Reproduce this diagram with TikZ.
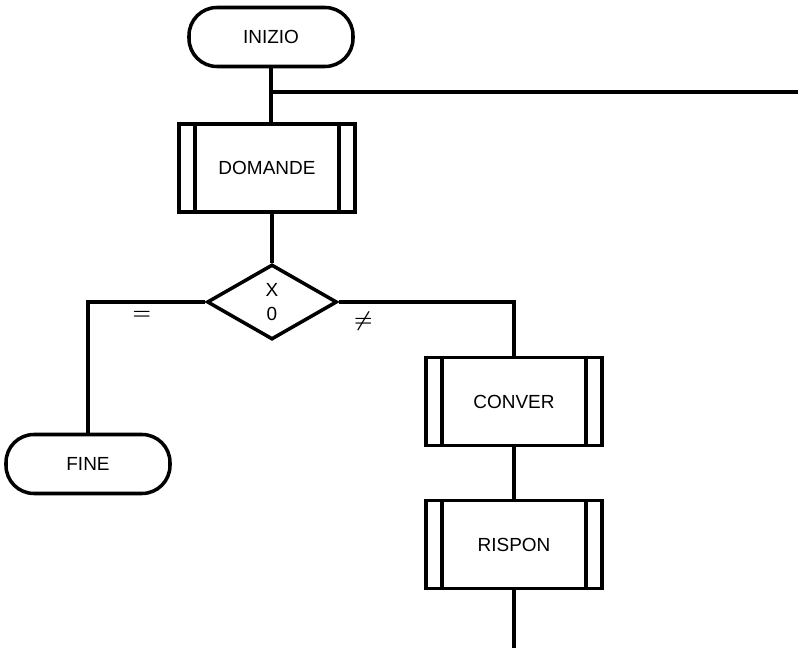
\documentclass[tikz,border=0pt]{standalone}
\usepackage{fontspec}
\setmainfont{Liberation Sans}
\usetikzlibrary{shapes.geometric}
\begin{document}
\begin{tikzpicture}[line width=2pt, every node/.style={align=center, font=\fontsize{10.8}{13.6}\selectfont},
  term/.style={draw, rounded corners=0.56cm, minimum width=3.28cm, minimum height=1.18cm},
  subproc/.style={draw, minimum width=3.52cm, minimum height=1.76cm,
    path picture={\draw ([xshift=0.32cm]path picture bounding box.north west) -- ([xshift=0.32cm]path picture bounding box.south west);
      \draw ([xshift=-0.32cm]path picture bounding box.north east) -- ([xshift=-0.32cm]path picture bounding box.south east);}},
  test/.style={draw, diamond, inner sep=0pt, minimum width=2.6cm, minimum height=1.5cm},
  etichetta/.style={below=1pt, font=\large\boldmath}]
  \useasboundingbox (0,0) rectangle (16.04,-13);
  \node[term] (inizio) at (5.42,-0.74) {INIZIO};
  \node[subproc] (domande) at (5.34,-3.36) {DOMANDE};
  \node[test] (x0) at (5.44,-6.04) {X\\0};
  \node[term] (fine) at (1.76,-9.28) {FINE};
  \node[subproc] (conver) at (10.28,-8.03) {CONVER};
  \node[subproc] (rispon) at (10.28,-10.89) {RISPON};
  \coordinate (ritorno) at (5.42,-1.84);
  \coordinate (ritornofine) at (15.96,-1.84);
  \coordinate (uscita) at (10.28,-12.96);
  \draw (inizio) -- (ritorno) -- (inizio |- domande.north);
  \draw (ritorno) -- (ritornofine);
  \draw (x0 |- domande.south) -- (x0);
  \draw (x0.west) -| node[pos=0.27, etichetta]{$=$} (fine.north);
  \draw (x0.east) -| node[pos=0.07, etichetta]{$\neq$} (conver.north);
  \draw (conver) -- (rispon);
  \draw (rispon) -- (uscita);
\end{tikzpicture}
\end{document}
